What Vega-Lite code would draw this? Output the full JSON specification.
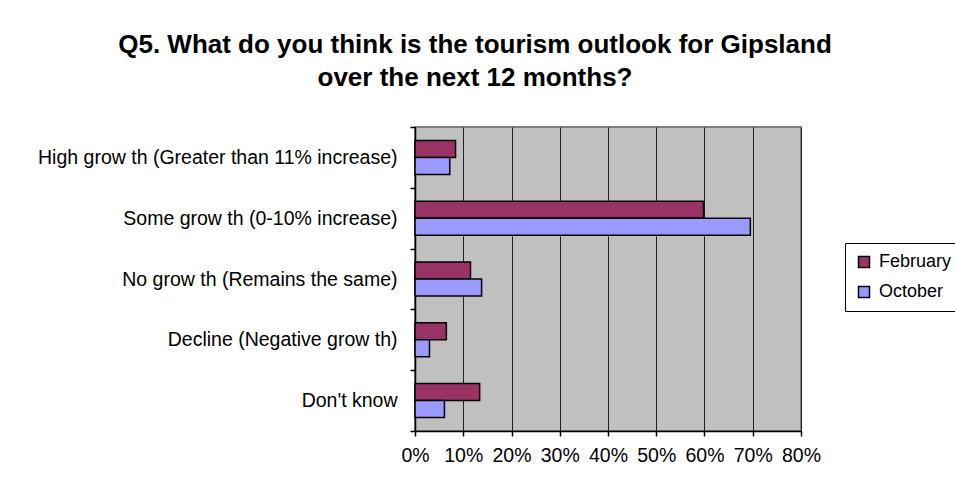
{
  "$schema": "https://vega.github.io/schema/vega-lite/v6.json",
  "autosize": {"type": "none"},
  "padding": {"left": 415, "top": 127, "right": 154, "bottom": 63},
  "width": 386,
  "height": 304,
  "background": "white",
  "title": {
    "text": ["Q5. What do you think is the tourism outlook for Gipsland", "over the next 12 months?"],
    "font": "Liberation Sans",
    "fontSize": 26,
    "fontWeight": "bold",
    "color": "black",
    "anchor": "middle",
    "frame": "group",
    "dx": -133,
    "offset": 26,
    "lineHeight": 33
  },
  "data": {
    "values": [
      {"category": "High grow th (Greater than 11% increase)", "period": "February", "value": 0.084},
      {"category": "High grow th (Greater than 11% increase)", "period": "October", "value": 0.072},
      {"category": "Some grow th (0-10% increase)", "period": "February", "value": 0.598},
      {"category": "Some grow th (0-10% increase)", "period": "October", "value": 0.695},
      {"category": "No grow th (Remains the same)", "period": "February", "value": 0.115},
      {"category": "No grow th (Remains the same)", "period": "October", "value": 0.138},
      {"category": "Decline (Negative grow th)", "period": "February", "value": 0.065},
      {"category": "Decline (Negative grow th)", "period": "October", "value": 0.030},
      {"category": "Don't know", "period": "February", "value": 0.134},
      {"category": "Don't know", "period": "October", "value": 0.061}
    ]
  },
  "mark": {"type": "bar", "stroke": "black", "strokeWidth": 1.5},
  "encoding": {
    "y": {
      "field": "category",
      "type": "nominal",
      "sort": null,
      "scale": {"paddingInner": 0, "paddingOuter": 0},
      "axis": {
        "title": null,
        "tickBand": "extent",
        "tickSize": 5,
        "tickColor": "black",
        "domainColor": "black",
        "labelFont": "Liberation Sans",
        "labelFontSize": 19.5,
        "labelColor": "black",
        "labelPadding": 13,
        "labelLimit": 420,
        "grid": false
      }
    },
    "yOffset": {
      "field": "period",
      "type": "nominal",
      "sort": ["February", "October"],
      "scale": {"paddingInner": 0, "paddingOuter": 0.79}
    },
    "x": {
      "field": "value",
      "type": "quantitative",
      "scale": {"domain": [0, 0.8], "nice": false},
      "axis": {
        "title": null,
        "format": ".0%",
        "values": [0, 0.1, 0.2, 0.3, 0.4, 0.5, 0.6, 0.7, 0.8],
        "labelOverlap": false,
        "labelFlush": false,
        "tickSize": 5,
        "tickColor": "black",
        "domainColor": "black",
        "labelFont": "Liberation Sans",
        "labelFontSize": 19.5,
        "labelColor": "black",
        "labelPadding": 10,
        "grid": true,
        "gridColor": "#222222",
        "gridOpacity": 1,
        "gridWidth": 1
      }
    },
    "color": {
      "field": "period",
      "type": "nominal",
      "sort": ["February", "October"],
      "scale": {"domain": ["February", "October"], "range": ["#993366", "#9999FF"]},
      "legend": {
        "title": null,
        "orient": "none",
        "legendX": 430,
        "legendY": 116,
        "strokeColor": "black",
        "fillColor": "white",
        "padding": 10,
        "symbolType": "square",
        "symbolSize": 121,
        "symbolStrokeColor": "black",
        "symbolStrokeWidth": 1.5,
        "symbolOpacity": 1,
        "labelFont": "Liberation Sans",
        "labelFontSize": 18,
        "labelColor": "black",
        "labelOffset": 6,
        "rowPadding": 12
      }
    }
  },
  "config": {
    "view": {"fill": "#C0C0C0", "stroke": "#808080", "strokeWidth": 2},
    "axis": {"domainWidth": 1.5, "tickWidth": 1.5}
  }
}
